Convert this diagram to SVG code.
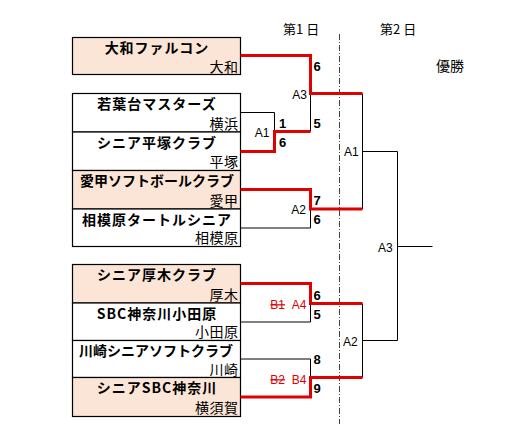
<svg xmlns="http://www.w3.org/2000/svg" width="505" height="435" viewBox="0 0 505 435">
<style>
.cell{stroke:#000;stroke-width:1.2}
.hl{fill:#FBE5D6}
.wh{fill:#fff}
.nm{font-family:"Noto Sans CJK JP","Noto Sans",sans-serif;font-size:14px;font-weight:bold;text-anchor:middle;letter-spacing:1px;fill:#000}
.nm.long{letter-spacing:0}
.loc{font-family:"Noto Sans CJK JP","Noto Sans",sans-serif;font-size:14px;text-anchor:end;letter-spacing:0.5px;fill:#000}
.hd{font-family:"Noto Sans CJK JP","Noto Sans",sans-serif;font-size:13px;fill:#000}
.sc{font-family:"Liberation Sans",Arial,sans-serif;font-size:13px;font-weight:bold;fill:#000}
.lb{font-family:"Liberation Sans",Arial,sans-serif;font-size:12px;fill:#000}
.rl{font-family:"Liberation Sans",Arial,sans-serif;font-size:12px;fill:#e00000}
.lose{fill:none;stroke:#000;stroke-width:1}
.win{fill:none;stroke:#e00000;stroke-width:3}
</style>
<rect width="505" height="435" fill="#fff"/>

<!-- headers -->
<text class="hd" x="283" y="34">第1 日</text>
<text class="hd" x="380" y="34">第2 日</text>
<text class="hd" x="436" y="71" style="font-size:14px">優勝</text>
<line x1="339.5" y1="34" x2="339.5" y2="424" stroke="#444" stroke-width="1" stroke-dasharray="6,2,1,2"/>

<!-- teams -->
<g id="team-yamato">
<rect class="cell hl" x="72.5" y="37.5" width="168" height="37"/>
<text class="nm" x="157" y="53">大和ファルコン</text>
<text class="loc" x="238.5" y="71.5">大和</text>
</g>
<g id="team-yokohama">
<rect class="cell wh" x="72.5" y="93.5" width="168" height="38.5"/>
<text class="nm" x="157" y="109">若葉台マスターズ</text>
<text class="loc" x="238.5" y="128.5">横浜</text>
</g>
<g id="team-hiratsuka">
<rect class="cell wh" x="72.5" y="132" width="168" height="38.5"/>
<text class="nm" x="157" y="147.5">シニア平塚クラブ</text>
<text class="loc" x="238.5" y="167">平塚</text>
</g>
<g id="team-aiko">
<rect class="cell hl" x="72.5" y="170.5" width="168" height="38.5"/>
<text class="nm long" x="157" y="185.5">愛甲ソフトボールクラブ</text>
<text class="loc" x="238.5" y="205.5">愛甲</text>
</g>
<g id="team-sagamihara">
<rect class="cell wh" x="72.5" y="209" width="168" height="37.5"/>
<text class="nm" x="157" y="224.5">相模原タートルシニア</text>
<text class="loc" x="238.5" y="243">相模原</text>
</g>
<g id="team-atsugi">
<rect class="cell hl" x="72.5" y="264.5" width="168" height="38.5"/>
<text class="nm" x="157" y="280">シニア厚木クラブ</text>
<text class="loc" x="238.5" y="299.5">厚木</text>
</g>
<g id="team-odawara">
<rect class="cell wh" x="72.5" y="303" width="168" height="37.5"/>
<text class="nm" x="157" y="318.5">SBC神奈川小田原</text>
<text class="loc" x="238.5" y="337">小田原</text>
</g>
<g id="team-kawasaki">
<rect class="cell wh" x="72.5" y="340.5" width="168" height="37"/>
<text class="nm long" x="156" y="355.5">川崎シニアソフトクラブ</text>
<text class="loc" x="238.5" y="374.5">川崎</text>
</g>
<g id="team-yokosuka">
<rect class="cell hl" x="72.5" y="377.5" width="168" height="39"/>
<text class="nm" x="157" y="393">シニアSBC神奈川</text>
<text class="loc" x="238.5" y="413">横須賀</text>
</g>

<!-- connectors -->
<g id="connectors">
<polyline class="lose" points="240.5,112.5 274.5,112.5 274.5,131.5"/>
<polyline class="lose" points="310.5,93.5 310.5,131.5"/>
<polyline class="lose" points="240.5,228 310.5,228 310.5,209"/>
<polyline class="lose" points="240.5,322 310.5,322 310.5,303.5"/>
<polyline class="lose" points="240.5,359 310.5,359 310.5,377.5"/>
<polyline class="lose" points="362.5,93.5 362.5,209"/>
<polyline class="lose" points="362.5,303.5 362.5,377.5"/>
<polyline class="lose" points="362.5,151.5 397.5,151.5 397.5,340.5 362.5,340.5"/>
<polyline class="lose" points="397.5,246.5 432.5,246.5"/>
<polyline class="win" points="240.5,55.5 310.5,55.5 310.5,93.5 362.5,93.5"/>
<polyline class="win" points="240.5,151.5 274.5,151.5 274.5,131.5 310.5,131.5"/>
<polyline class="win" points="240.5,189.5 310.5,189.5 310.5,209 362.5,209"/>
<polyline class="win" points="240.5,283.5 310.5,283.5 310.5,303.5 362.5,303.5"/>
<polyline class="win" points="240.5,397 310.5,397 310.5,377.5 362.5,377.5"/>
</g>

<!-- scores -->
<g id="scores">
<text class="sc" x="313.5" y="71">6</text>
<text class="sc" x="313.5" y="128">5</text>
<text class="sc" x="279" y="128">1</text>
<text class="sc" x="279" y="147">6</text>
<text class="sc" x="313.5" y="205">7</text>
<text class="sc" x="313.5" y="224">6</text>
<text class="sc" x="313.5" y="299.5">6</text>
<text class="sc" x="313.5" y="318.5">5</text>
<text class="sc" x="313.5" y="364">8</text>
<text class="sc" x="313.5" y="393">9</text>
</g>

<!-- match labels -->
<g id="match-labels">
<text class="lb" x="307" y="99" text-anchor="end">A3</text>
<text class="lb" x="269.5" y="137" text-anchor="end">A1</text>
<text class="lb" x="306" y="213.5" text-anchor="end">A2</text>
<text class="rl" x="285" y="308.5" text-anchor="end" text-decoration="line-through">B1</text>
<text class="rl" x="306.5" y="308.5" text-anchor="end">A4</text>
<text class="rl" x="285" y="383.5" text-anchor="end" text-decoration="line-through">B2</text>
<text class="rl" x="306.5" y="383.5" text-anchor="end">B4</text>
<text class="lb" x="344" y="156">A1</text>
<text class="lb" x="343" y="345.5">A2</text>
<text class="lb" x="378" y="251.5">A3</text>
</g>
</svg>
